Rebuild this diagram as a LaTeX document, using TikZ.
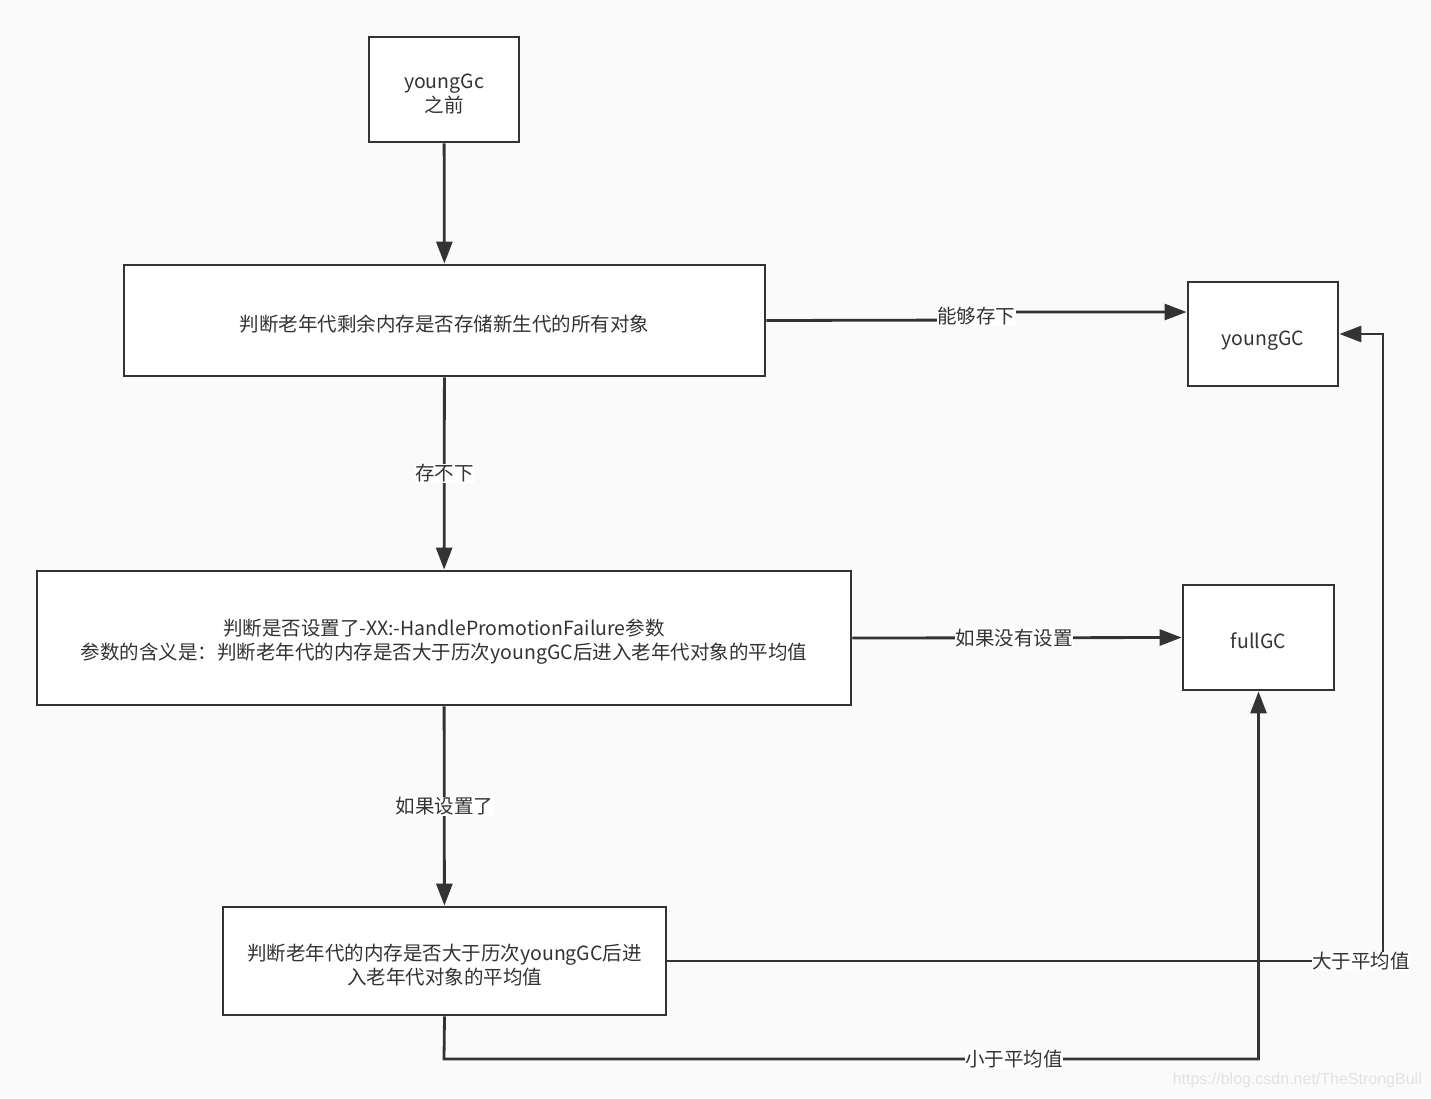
\documentclass[tikz,border=0pt]{standalone}
\usepackage{fontspec}
\setmainfont{Noto Sans CJK SC}
\newfontfamily\wmfont{Liberation Sans}
\usetikzlibrary{arrows.meta}
\definecolor{bgc}{HTML}{FAFAFA}
\definecolor{lnc}{HTML}{333333}
\definecolor{wmc}{HTML}{E2E2E2}
\newcommand{\myst}{\rule{0pt}{23pt}}
\begin{document}
\begin{tikzpicture}[x=1pt,y=-1pt,
  box/.style={draw=lnc, line width=2.8pt, fill=white, align=center, inner sep=0pt,
    font=\fontsize{19.5}{24}\selectfont, text=lnc},
  conn/.style={draw=lnc, line width=2.8pt, -{Triangle[length=22pt,width=16pt]}},
  lbl/.style={fill=white, inner sep=0.5pt, font=\fontsize{19.5}{24}\selectfont, text=lnc}]
\fill[bgc] (0,0) rectangle (1431,1098);
\useasboundingbox (0,0) rectangle (1431,1098);

\node[box, minimum width=150pt, minimum height=105pt] (A) at (444,89.5) {\myst youngGc\\之前};
\node[box, minimum width=641pt, minimum height=111pt] (B) at (444.5,320.5) {\myst 判断老年代剩余内存是否存储新生代的所有对象};
\node[box, minimum width=150pt, minimum height=104pt] (C) at (1263,334) {\rule{0pt}{28pt}youngGC};
\node[box, minimum width=814pt, minimum height=134pt] (D) at (444,638) {\myst 判断是否设置了-XX:-HandlePromotionFailure参数\\参数的含义是：判断老年代的内存是否大于历次youngGC后进入老年代对象的平均值};
\node[box, minimum width=151pt, minimum height=105pt] (E) at (1258.5,637.5) {\myst fullGC};
\node[box, minimum width=443pt, minimum height=108pt] (F) at (444.5,961) {\rule{0pt}{25pt}判断老年代的内存是否大于历次youngGC后进\\入老年代对象的平均值};

\draw[conn] (A) -- (B);
\draw[conn] (B) -- node[lbl]{存不下} (D);
\draw[conn] (D) -- node[lbl]{如果设置了} (F);
\draw[conn] (B.east) -- (976,320) -- node[lbl]{能够存下} (976,312) -- (C.west |- 976,312);
\draw[conn] (D.east) -- node[lbl, xshift=-3pt]{如果没有设置} (E.west);
\draw[conn] (F.east) -- node[lbl, pos=0.969]{大于平均值} (1383,961) |- (C.east);
\draw[conn] (F.south) -- (444,1059) -- node[lbl, pos=0.70]{小于平均值} (1258.5,1059) -- (E.south);

\node[anchor=east, inner sep=0pt, text=wmc, font=\wmfont\fontsize{16}{18}\selectfont] (wm) at (1422,1080) {https://blog.csdn.net/TheStrongBull};
\end{tikzpicture}
\end{document}
